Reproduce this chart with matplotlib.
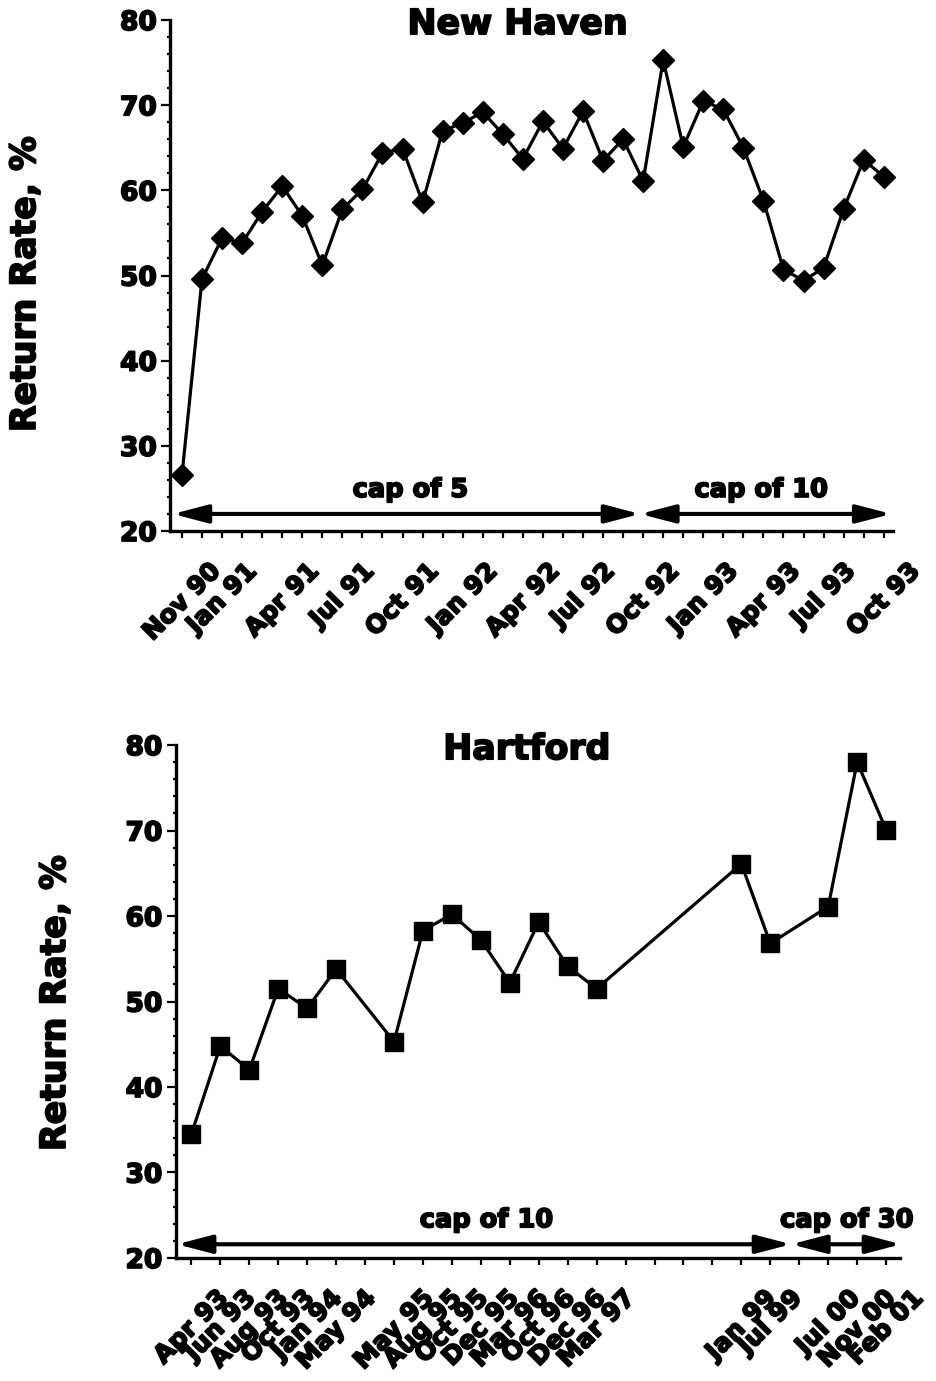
import matplotlib
matplotlib.use('Agg')
import matplotlib.pyplot as plt
from matplotlib.ticker import MultipleLocator
import matplotlib.patheffects as pe
from matplotlib.text import Text

plt.rcParams['font.family'] = ['DejaVu Sans']
plt.rcParams['font.weight'] = 'bold'

# ---------------- data ----------------
# New Haven: one value per month, Nov 90 .. Oct 93 (36 monthly slots)
nh_rates = [26.6, 49.6, 54.4, 53.8, 57.5, 60.5, 57.0, 51.2, 57.8, 60.1,
            64.4, 64.9, 58.6, 67.0, 67.9, 69.2, 66.6, 63.7, 68.1, 64.9,
            69.3, 63.5, 66.0, 61.1, 75.3, 65.1, 70.5, 69.5, 65.0, 58.8,
            50.7, 49.4, 50.9, 57.8, 63.6, 61.6]
nh_slots = 36
nh_label_pos = [0, 2, 5, 8, 11, 14, 17, 20, 23, 26, 29, 32, 35]
nh_labels = ['Nov 90', 'Jan 91', 'Apr 91', 'Jul 91', 'Oct 91', 'Jan 92', 'Apr 92',
             'Jul 92', 'Oct 92', 'Jan 93', 'Apr 93', 'Jul 93', 'Oct 93']
nh_caps = ['cap of 5', 'cap of 10']
nh_cap_bounds = [-0.46, 22.85, 35.38]
nh_cap_text_x = [11.4, 28.9]

# Hartford: 25 axis slots, data at selected slots
hf_slots = 25
hf_pos = [0, 1, 2, 3, 4, 5, 7, 8, 9, 10, 11, 12, 13, 14, 19, 20, 22, 23, 24]
hf_labels = ['Apr 93', 'Jun 93', 'Aug 93', 'Oct 93', 'Jan 94', 'May 94', 'May 95',
             'Aug 95', 'Oct 95', 'Dec 95', 'Mar 96', 'Oct 96', 'Dec 96', 'Mar 97',
             'Jan 99', 'Jul 99', 'Jul 00', 'Nov 00', 'Feb 01']
hf_rates = [34.5, 44.8, 42.0, 51.5, 49.2, 53.8, 45.3, 58.3, 60.2, 57.2,
            52.2, 59.3, 54.1, 51.5, 66.1, 56.8, 61.1, 78.0, 70.1]
hf_caps = ['cap of 10', 'cap of 30']
hf_cap_bounds = [-0.5, 20.72, 24.52]
hf_cap_text_x = [10.2, 22.65]

# ---------------- figure ----------------
fig = plt.figure(figsize=(9.37, 13.81), dpi=100)
ax1 = fig.add_axes([0.1814, 0.6155, 0.7716, 0.3700])
ax2 = fig.add_axes([0.1873, 0.0891, 0.7732, 0.3714])


def style(ax, n_slots, label_pos, labels, xlim):
    ax.set_ylim(20, 80)
    ax.set_xlim(*xlim)
    for s in ['top', 'right']:
        ax.spines[s].set_visible(False)
    for s in ['left', 'bottom']:
        ax.spines[s].set_linewidth(2.4)
    ax.yaxis.set_major_locator(MultipleLocator(10))
    ax.yaxis.set_minor_locator(MultipleLocator(2))
    ax.tick_params(axis='y', which='major', length=6.5, width=1.6, pad=3,
                   labelsize=19, direction='out')
    ax.tick_params(axis='y', which='minor', length=2.5, width=1.6, direction='out')
    ax.set_xticks(range(n_slots))
    tl = [''] * n_slots
    for p, l in zip(label_pos, labels):
        tl[p] = l
    ax.set_xticklabels(tl, rotation=45, ha='center', fontsize=18, fontweight='bold')
    ax.tick_params(axis='x', length=5, width=1.6, pad=15)


def caps(ax, bounds, names, text_x, y_arrow, y_text):
    for i in range(len(names)):
        ax.annotate('', xy=(bounds[i + 1], y_arrow), xytext=(bounds[i], y_arrow),
                    arrowprops=dict(arrowstyle='<|-|>,head_length=21,head_width=5.5',
                                    mutation_scale=1, lw=3.0, color='black',
                                    shrinkA=0, shrinkB=0),
                    annotation_clip=False)
        ax.text(text_x[i], y_text, names[i], ha='center', va='baseline',
                fontsize=18.5, fontweight='bold')


# New Haven
style(ax1, nh_slots, nh_label_pos, nh_labels, (-0.6, 35.46))
ax1.plot(range(nh_slots), nh_rates, '-', color='black', lw=2.3, marker='D',
         ms=11.5, mfc='black', mec='black', clip_on=False, zorder=5)
caps(ax1, nh_cap_bounds, nh_caps, nh_cap_text_x, 22.0, 24.0)
ax1.text(0.481, 0.992, 'New Haven', transform=ax1.transAxes, ha='center',
         va='center', fontsize=25, fontweight='bold')

# Hartford
style(ax2, hf_slots, hf_pos, hf_labels, (-0.55, 24.48))
ax2.plot(hf_pos, hf_rates, '-', color='black', lw=2.3, marker='s',
         ms=12.5, mfc='black', mec='black', clip_on=False, zorder=5)
caps(ax2, hf_cap_bounds, hf_caps, hf_cap_text_x, 21.6, 23.6)
ax2.text(0.485, 0.992, 'Hartford', transform=ax2.transAxes, ha='center',
         va='center', fontsize=25, fontweight='bold')

fig.text(0.0267, 0.7943, 'Return Rate, %', rotation=90, ha='center', va='center',
         fontsize=25, fontweight='bold')
fig.text(0.0587, 0.2737, 'Return Rate, %', rotation=90, ha='center', va='center',
         fontsize=25, fontweight='bold')

# heavier, "black"-style lettering like the reference
for t in fig.findobj(Text):
    t.set_path_effects([pe.withStroke(linewidth=1.3, foreground='black')])

fig.savefig('out.png', dpi=100, facecolor='white')
